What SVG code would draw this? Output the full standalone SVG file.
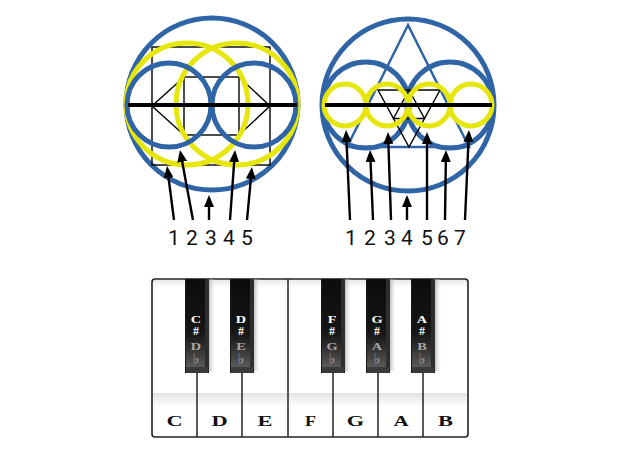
<svg xmlns="http://www.w3.org/2000/svg" width="627" height="472" viewBox="0 0 627 472">
<style>
.blue{fill:none;stroke:#2f64a6;stroke-width:5}
.yel{fill:none;stroke:#e6e60a;stroke-width:5}
.thin{fill:none;stroke:#000;stroke-width:1.4}
.axis{stroke:#000;stroke-width:4}
.arr{stroke:#000;stroke-width:2.4;marker-end:url(#ah)}
.num{font-family:Roboto,"Liberation Sans",sans-serif;font-size:21px;fill:#111;text-anchor:middle}
.wl{font-family:"Liberation Serif",serif;font-weight:bold;font-size:14px;fill:#111;text-anchor:middle}
.bl{font-family:"Liberation Serif",serif;font-weight:bold;font-size:11px;text-anchor:middle}
.sh{font-family:"Liberation Serif",serif;font-weight:bold;font-size:12px;text-anchor:middle}
.fl{font-family:"DejaVu Sans",sans-serif;font-size:15px;text-anchor:middle}
.div{stroke:#222;stroke-width:1.5}
</style>
<defs>
<marker id="ah" viewBox="0 0 12 10" refX="6" refY="5" markerWidth="12" markerHeight="10" markerUnits="userSpaceOnUse" orient="auto">
<path d="M0,0 L12,5 L0,10 Z" fill="#000"/>
</marker>
<linearGradient id="band" x1="0" y1="0" x2="0" y2="1">
<stop offset="0" stop-color="#e2e2e2"/>
<stop offset="1" stop-color="#fff"/>
</linearGradient>
<linearGradient id="topsh" x1="0" y1="0" x2="0" y2="1">
<stop offset="0" stop-color="#e6e6e6"/>
<stop offset="1" stop-color="#fff" stop-opacity="0"/>
</linearGradient>
<linearGradient id="side" x1="0" y1="0" x2="1" y2="0">
<stop offset="0" stop-color="#999" stop-opacity="0.6"/>
<stop offset="1" stop-color="#fff" stop-opacity="0"/>
</linearGradient>
<linearGradient id="bk" x1="0" y1="0" x2="0" y2="1">
<stop offset="0" stop-color="#0c0c0c"/>
<stop offset="0.6" stop-color="#151515"/>
<stop offset="0.75" stop-color="#2a2a2a"/>
<stop offset="1" stop-color="#5a5a5a"/>
</linearGradient>
<g id="bkey">
<rect x="24" y="0" width="7" height="92" fill="url(#side)"/>
<rect x="0" y="0" width="24" height="94" fill="#1a1a1a"/>
<rect x="1" y="0" width="19" height="88" fill="url(#bk)"/>
<rect x="20" y="0" width="4" height="92" fill="#2e2e2e"/>
<rect x="1" y="88" width="22" height="6" fill="#3a3a3a"/>
</g>
</defs>
<rect width="627" height="472" fill="#fff"/>

<g id="left-diagram">
<circle class="blue" cx="212" cy="104" r="86"/>
<rect class="thin" x="152" y="47" width="118" height="118"/>
<rect class="thin" x="184" y="77" width="55" height="58"/>
<path class="thin" d="M152,106 L184,77 M152,106 L184,135 M270,106 L239,77 M270,106 L239,135"/>
<circle class="yel" cx="187" cy="104" r="61"/>
<circle class="yel" cx="237" cy="104" r="61"/>
<circle class="blue" cx="169" cy="105" r="42"/>
<circle class="blue" cx="254" cy="105" r="42"/>
<line class="axis" x1="128" y1="105" x2="297" y2="105"/>
</g>

<g id="right-diagram">
<circle class="blue" cx="408" cy="105" r="86"/>
<path d="M408,25 L347,147 L469,147 Z" fill="none" stroke="#2f64a6" stroke-width="2.5"/>
<circle class="blue" cx="366" cy="105" r="43"/>
<circle class="blue" cx="450" cy="105" r="43"/>
<path class="thin" d="M378,90 L440,90 L409,147 Z M409,90 L393.5,118.5 L424.5,118.5 Z"/>
<circle class="yel" cx="345" cy="105" r="21"/>
<circle class="yel" cx="387" cy="105" r="21"/>
<circle class="yel" cx="429" cy="105" r="21"/>
<circle class="yel" cx="471" cy="105" r="21"/>
<line class="axis" x1="325" y1="105" x2="492" y2="105"/>
</g>

<g id="connectors">
<line class="arr" x1="174" y1="220" x2="167.8" y2="172"/>
<line class="arr" x1="193" y1="220" x2="181.1" y2="156"/>
<line class="arr" x1="209" y1="220" x2="209" y2="201"/>
<line class="arr" x1="230" y1="220" x2="234.6" y2="156"/>
<line class="arr" x1="247" y1="220" x2="251.4" y2="173"/>
<line class="arr" x1="350" y1="220" x2="346.3" y2="136"/>
<line class="arr" x1="373" y1="220" x2="370.3" y2="156"/>
<line class="arr" x1="391" y1="220" x2="388.2" y2="138"/>
<line class="arr" x1="407" y1="220" x2="407" y2="201"/>
<line class="arr" x1="427" y1="220" x2="427" y2="138"/>
<line class="arr" x1="445" y1="220" x2="445.9" y2="156"/>
<line class="arr" x1="465" y1="220" x2="468.7" y2="136"/>
</g>

<g id="labels-left">
<text class="num" x="174" y="245">1</text>
<text class="num" x="192" y="245">2</text>
<text class="num" x="211" y="245">3</text>
<text class="num" x="229" y="245">4</text>
<text class="num" x="247" y="245">5</text>
</g>
<g id="labels-right">
<text class="num" x="351" y="245">1</text>
<text class="num" x="370" y="245">2</text>
<text class="num" x="390" y="245">3</text>
<text class="num" x="407" y="245">4</text>
<text class="num" x="427" y="245">5</text>
<text class="num" x="443" y="245">6</text>
<text class="num" x="460" y="245">7</text>
</g>

<g id="piano">
<rect x="152" y="279" width="316" height="158" rx="3" fill="#fff"/>
<rect x="153" y="280" width="314" height="10" fill="url(#topsh)"/>
<rect x="153" y="393" width="314" height="13" fill="url(#band)"/>
<line class="div" x1="197" y1="370" x2="197" y2="437"/>
<line class="div" x1="242" y1="370" x2="242" y2="437"/>
<line class="div" x1="288" y1="279" x2="288" y2="437"/>
<line class="div" x1="333" y1="370" x2="333" y2="437"/>
<line class="div" x1="378" y1="370" x2="378" y2="437"/>
<line class="div" x1="423" y1="370" x2="423" y2="437"/>
<rect x="152" y="279" width="316" height="158" rx="3" fill="none" stroke="#222" stroke-width="1.6"/>
<g id="key-C"><text class="wl" transform="translate(174.5,426) scale(1.6,1)">C</text></g>
<g id="key-D"><text class="wl" transform="translate(219.5,426) scale(1.6,1)">D</text></g>
<g id="key-E"><text class="wl" transform="translate(265,426) scale(1.6,1)">E</text></g>
<g id="key-F"><text class="wl" transform="translate(310.5,426) scale(1.3,1)">F</text></g>
<g id="key-G"><text class="wl" transform="translate(355.5,426) scale(1.6,1)">G</text></g>
<g id="key-A"><text class="wl" transform="translate(401,426) scale(1.5,1)">A</text></g>
<g id="key-B"><text class="wl" transform="translate(445.5,426) scale(1.6,1)">B</text></g>
<g id="key-Csharp">
<use href="#bkey" x="185" y="279"/>
<text class="bl" fill="#fff" transform="translate(196,323) scale(1.3,1)">C</text>
<text class="sh" fill="#fff" x="196" y="335">#</text>
<text class="bl" fill="#a8a8a8" transform="translate(196,350) scale(1.3,1)">D</text>
<text class="fl" fill="#a8a8a8" x="196" y="364">♭</text>
</g>
<g id="key-Dsharp">
<use href="#bkey" x="230" y="279"/>
<text class="bl" fill="#fff" transform="translate(241,323) scale(1.3,1)">D</text>
<text class="sh" fill="#fff" x="241" y="335">#</text>
<text class="bl" fill="#a8a8a8" transform="translate(241,350) scale(1.3,1)">E</text>
<text class="fl" fill="#a8a8a8" x="241" y="364">♭</text>
</g>
<g id="key-Fsharp">
<use href="#bkey" x="321" y="279"/>
<text class="bl" fill="#fff" transform="translate(332,323) scale(1.3,1)">F</text>
<text class="sh" fill="#fff" x="332" y="335">#</text>
<text class="bl" fill="#a8a8a8" transform="translate(332,350) scale(1.3,1)">G</text>
<text class="fl" fill="#a8a8a8" x="332" y="364">♭</text>
</g>
<g id="key-Gsharp">
<use href="#bkey" x="366" y="279"/>
<text class="bl" fill="#fff" transform="translate(377,323) scale(1.3,1)">G</text>
<text class="sh" fill="#fff" x="377" y="335">#</text>
<text class="bl" fill="#a8a8a8" transform="translate(377,350) scale(1.3,1)">A</text>
<text class="fl" fill="#a8a8a8" x="377" y="364">♭</text>
</g>
<g id="key-Asharp">
<use href="#bkey" x="411" y="279"/>
<text class="bl" fill="#fff" transform="translate(422,323) scale(1.3,1)">A</text>
<text class="sh" fill="#fff" x="422" y="335">#</text>
<text class="bl" fill="#a8a8a8" transform="translate(422,350) scale(1.3,1)">B</text>
<text class="fl" fill="#a8a8a8" x="422" y="364">♭</text>
</g>
</g>
</svg>
